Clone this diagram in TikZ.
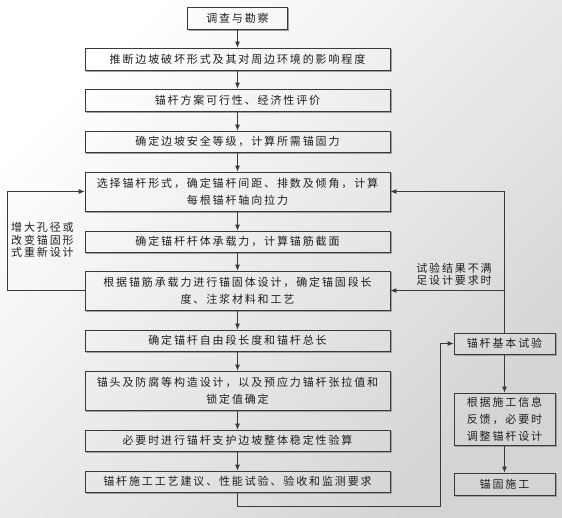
\documentclass[tikz,border=0pt]{standalone}
\usepackage{fontspec}
\newfontfamily\cjkfont[LetterSpace=17]{Noto Sans CJK SC}
\usetikzlibrary{arrows.meta}
\definecolor{linec}{HTML}{3A3A3A}
\definecolor{txtc}{HTML}{1E1E1E}
\definecolor{shadc}{HTML}{A0A0A0}
\definecolor{bgdark}{HTML}{D4D4D4}
\newcommand{\boxfont}{\cjkfont\fontsize{11}{17}\selectfont}
\newcommand{\lblfont}{\cjkfont\fontsize{11}{12.5}\selectfont}
\begin{document}
\begin{tikzpicture}[x=1pt,y=-1pt,
  box/.style={draw=linec, line width=.75pt, minimum width=305pt, inner sep=0pt,
    font=\boxfont, align=center, text=txtc},
  rbox/.style={box, minimum width=101pt},
  arr/.style={draw=linec, line width=.8pt, -{Latex[length=6pt,width=5pt]}},
  shad/.style={draw=shadc, line width=.9pt},
  lbl/.style={font=\lblfont, text=txtc, inner sep=0pt}]
\shade[bottom color=bgdark, top color=white, shading angle=45] (0,0) rectangle (562,518);
\useasboundingbox (0,0) rectangle (562,518);
% main column
\node[box, minimum width=100pt, minimum height=22pt] (b1) at (237.5,18) {调查与勘察};
\node[box, minimum height=22pt] (b2) at (237.5,59) {推断边坡破坏形式及其对周边环境的影响程度};
\node[box, minimum height=22pt] (b3) at (237.5,100) {锚杆方案可行性、经济性评价};
\node[box, minimum height=21pt] (b4) at (237.5,141.5) {确定边坡安全等级，计算所需锚固力};
\node[box, minimum height=39pt] (b5) at (237.5,191.5) {选择锚杆形式，确定锚杆间距、排数及倾角，计算\\每根锚杆轴向拉力};
\node[box, minimum height=21pt] (b6) at (237.5,241.5) {确定锚杆杆体承载力，计算锚筋截面};
\node[box, minimum height=39pt] (b7) at (237.5,290.5) {根据锚筋承载力进行锚固体设计，确定锚固段长\\度、注浆材料和工艺};
\node[box, minimum height=21pt] (b8) at (237.5,340.5) {确定锚杆自由段长度和锚杆总长};
\node[box, minimum height=39pt] (b9) at (237.5,390.5) {锚头及防腐等构造设计，以及预应力锚杆张拉值和\\锁定值确定};
\node[box, minimum height=21pt] (b10) at (237.5,440.5) {必要时进行锚杆支护边坡整体稳定性验算};
\node[box, minimum height=21pt] (b11) at (237.5,481.5) {锚杆施工工艺建议、性能试验、验收和监测要求};
% right column
\node[rbox, minimum height=21pt] (r1) at (504.5,343.5) {锚杆基本试验};
\node[rbox, minimum height=52pt] (r2) at (504.5,419) {根据施工信息\\反馈，必要时\\调整锚杆设计};
\node[rbox, minimum height=22pt] (r3) at (504.5,484) {锚固施工};
% shadows
\foreach \n in {b1,b2,b3,b4,b5,b6,b7,b8,b9,b10,b11,r1,r2,r3}
  \draw[shad] ([shift={(1pt,-1.5pt)}]\n.north east) -- ([shift={(1pt,-1pt)}]\n.south east) -- ([shift={(1.5pt,-1pt)}]\n.south west);
% labels
\node[lbl, anchor=west, align=left] (l1) at (11,240) {增大孔径或\\改变锚固形\\式重新设计};
\node[lbl, align=left] (l2) at (454,274.5) {试验结果不满\\足设计要求时};
% connectors
\foreach \a/\b in {b1/b2,b2/b3,b3/b4,b4/b5,b5/b6,b6/b7,b7/b8,b8/b9,b9/b10,b10/b11,r1/r2,r2/r3}
  \draw[arr] (\a.south) -- (\b.north);
\coordinate (c1) at (440,506);
\draw[arr] (b11.south) |- (c1) |- (r1.west);
\draw[arr] (r1.north) |- (b5.east);
\draw[arr] (r1.north |- b7.east) -- (b7.east);
\coordinate (c2) at (7,290.5);
\draw[arr] (b7.west) -- (c2) |- (b5.west);
\end{tikzpicture}
\end{document}
